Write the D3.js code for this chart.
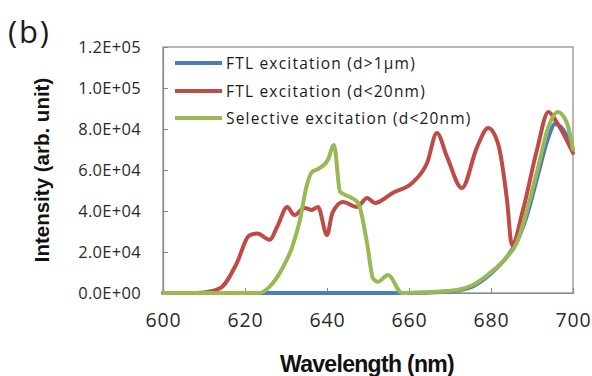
<!DOCTYPE html>
<html>
<head>
<meta charset="utf-8">
<script src="https://cdn.jsdelivr.net/npm/d3@7"></script>
<style>
  html, body { margin: 0; padding: 0; background: #fff; }
  svg { display: block; }
</style>
</head>
<body>
<svg id="chart" width="592" height="376"></svg>
<script>
// Emission spectra: wavelength (nm) and intensity (arb. unit) for each excitation scheme
const blueWl  = [600, 660, 668, 672, 676, 680, 684, 686, 688.8, 691.5, 694, 695.6, 697.5, 700];
const blueVal = [0, 0, 500, 1200, 3700, 9500, 18000, 24000, 38000, 58000, 76000, 82500, 80000, 70000];

const redWl  = [600, 606, 610, 614, 618, 621, 623, 626, 628, 630.3, 632, 634.5, 636.3, 637.8, 640, 641.3,
                643.9, 647.3, 649.8, 651.7, 656, 661, 664.4, 666.8, 669.3, 672.9, 676.6, 679.3, 681.7,
                683.9, 685.1, 687.8, 691.2, 694, 696, 700];
const redVal = [0, 0, 300, 2400, 14600, 28000, 29000, 26000, 33000, 42000, 38000, 41500, 40500, 42000, 28300, 39000,
                44400, 42000, 46300, 43900, 48800, 54100, 63400, 78000, 66300, 51200, 71200, 80500, 73000,
                45400, 23400, 40500, 69800, 88300, 83400, 68300];

const greenWl  = [600, 623.5, 626.8, 629.3, 631.5, 633.4, 635, 636.3, 637.8, 640.2, 641.7, 643.2, 645.6, 647.6,
                  649.8, 651.2, 652.4, 654.9, 658.3, 665, 671.7, 675.6, 679.8, 683.9, 686.3, 688.8, 691.5,
                  694, 696.3, 698.5, 700];
const greenVal = [0, 0, 4900, 12700, 22400, 35600, 52000, 59000, 60500, 64900, 72200, 49300, 46800, 43900,
                  24000, 7300, 5400, 8800, 0, 500, 1500, 3900, 9800, 17600, 24400, 40500, 61500,
                  81000, 88300, 83000, 70000];

const xTicks = [600, 620, 640, 660, 680, 700];
const yTicks = [0, 20000, 40000, 60000, 80000, 100000, 120000];

const seriesNames  = ["FTL excitation (d>1\u03bcm)", "FTL excitation (d<20nm)", "Selective excitation (d<20nm)"];
const seriesColors = ["#4a7ebb", "#be4b48", "#98b954"];

const series = [
  { name: seriesNames[0], color: seriesColors[0], pts: blueWl.map((w, i) => [w, blueVal[i]]) },
  { name: seriesNames[1], color: seriesColors[1], pts: redWl.map((w, i) => [w, redVal[i]]) },
  { name: seriesNames[2], color: seriesColors[2], pts: greenWl.map((w, i) => [w, greenVal[i]]) }
];

const svg = d3.select("#chart");
const plot = { left: 163, right: 573, top: 47, bottom: 293 };

const x = d3.scaleLinear().domain([600, 700]).range([plot.left, plot.right]);
const y = d3.scaleLinear().domain([0, 120000]).range([plot.bottom, plot.top]);

const labelFont = "'Open Sans', sans-serif";
const titleFont = "'Liberation Sans', Arial, sans-serif";

// plot area frame
svg.append("rect")
  .attr("x", plot.left).attr("y", plot.top)
  .attr("width", plot.right - plot.left).attr("height", plot.bottom - plot.top)
  .attr("fill", "#fff").attr("stroke", "#898989").attr("stroke-width", 1.2);

// y axis: inside ticks, scientific labels
const yAxis = d3.axisLeft(y).tickValues(yTicks).tickSize(-5).tickPadding(22)
  .tickFormat(d => {
    const e = d === 0 ? 0 : Math.floor(Math.log10(d));
    const m = d / Math.pow(10, e);
    return m.toFixed(1) + "E+" + String(e).padStart(2, "0");
  });
svg.append("g").attr("transform", `translate(${plot.left},0)`).call(yAxis)
  .call(g => g.select(".domain").attr("stroke", "#898989").attr("stroke-width", 1.2))
  .call(g => g.selectAll(".tick line").attr("stroke", "#898989"))
  .call(g => g.selectAll(".tick text")
    .attr("font-family", labelFont).attr("font-size", 16.5).attr("fill", "#2a2a2a")
    .attr("letter-spacing", 0.3).attr("dy", "0.36em"));

// x axis
const xAxis = d3.axisBottom(x).tickValues(xTicks).tickSize(-5).tickPadding(20).tickFormat(d3.format("d"));
svg.append("g").attr("transform", `translate(0,${plot.bottom})`).call(xAxis)
  .call(g => g.select(".domain").attr("stroke", "#898989").attr("stroke-width", 1.2))
  .call(g => g.selectAll(".tick line").attr("stroke", "#898989"))
  .call(g => g.selectAll(".tick text")
    .attr("font-family", labelFont).attr("font-size", 19.5).attr("fill", "#2a2a2a")
    .attr("letter-spacing", 0.8));

// spectra
const line = d3.line().x(d => x(d[0])).y(d => y(d[1])).curve(d3.curveMonotoneX);
svg.append("g").selectAll("path").data(series).join("path")
  .attr("d", d => line(d.pts))
  .attr("fill", "none")
  .attr("stroke", d => d.color)
  .attr("stroke-width", 4)
  .attr("stroke-linejoin", "round")
  .attr("stroke-linecap", "round");

// legend
const legend = svg.append("g");
const legendRows = [63, 91, 118];
series.forEach((s, i) => {
  legend.append("line")
    .attr("x1", 175).attr("x2", 222)
    .attr("y1", legendRows[i]).attr("y2", legendRows[i])
    .attr("stroke", s.color).attr("stroke-width", 4);
  legend.append("text")
    .attr("x", 226).attr("y", legendRows[i]).attr("dy", "0.36em")
    .attr("font-family", labelFont).attr("font-size", 15.5).attr("fill", "#1a1a1a")
    .attr("letter-spacing", 1.2)
    .text(s.name);
});

// panel label
svg.append("text").attr("x", 8).attr("y", 43)
  .attr("font-family", labelFont).attr("font-size", 31).attr("fill", "#1a1a1a")
  .attr("letter-spacing", 1.8)
  .text("(b)");

// axis titles
svg.append("text")
  .attr("transform", `translate(49,170) rotate(-90)`)
  .attr("text-anchor", "middle")
  .attr("font-family", titleFont).attr("font-weight", "bold").attr("font-size", 20.5).attr("fill", "#111")
  .text("Intensity (arb. unit)");

svg.append("text")
  .attr("x", 367).attr("y", 372)
  .attr("text-anchor", "middle")
  .attr("font-family", titleFont).attr("font-weight", "bold").attr("font-size", 23).attr("fill", "#111")
  .attr("letter-spacing", -0.7)
  .text("Wavelength (nm)");
</script>
</body>
</html>
